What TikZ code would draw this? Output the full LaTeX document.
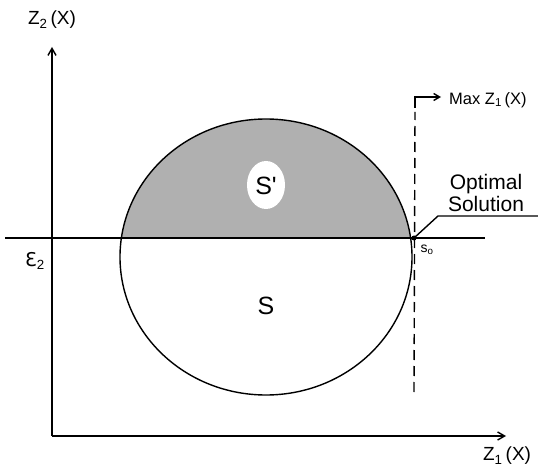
\documentclass[tikz,border=0pt]{standalone}
\usepackage{fontspec}
\setmainfont{Liberation Sans}
\newfontfamily\dvfont{DejaVu Sans}
\usetikzlibrary{arrows.meta}
\begin{document}
\begin{tikzpicture}[x=1pt,y=-1pt,
  lbl/.style={inner sep=0pt,font=\fontsize{19}{21}\selectfont},
  axis/.style={line width=1.4pt,-{Straight Barb[length=7pt,width=8pt]}},
  thin line/.style={line width=1.4pt}]
\useasboundingbox (0,0) rectangle (538,470);
% shaded upper part
\begin{scope}
  \clip (0,0) rectangle (538,238);
  \fill[gray!62] (266,257) ellipse [x radius=146, y radius=138];
\end{scope}
\fill[white] (266,185) ellipse [x radius=19, y radius=24];
\draw[thin line] (266,257) ellipse [x radius=146, y radius=138];
% axes
\coordinate (O) at (52,436);
\coordinate (ytop) at (52,47);
\coordinate (xend) at (506,436);
\draw[axis] (O) -- (ytop);
\draw[axis] (O) -- (xend);
\node[lbl] (z2) at (52,20) {Z\textsubscript{2}\,(X)};
\node[lbl] (z1) at (507,456) {Z\textsubscript{1}\,(X)};
% epsilon line
\coordinate (el) at (5,238);
\coordinate (er) at (485,238);
\draw[thin line] (el) -- (er);
\node[lbl] (eps) at (35,261) {{\dvfont Ɛ}\textsubscript{2}};
% region labels
\node[lbl,font=\fontsize{25}{28}\selectfont] (Sp) at (266,186) {S\textquotesingle};
\node[lbl,font=\fontsize{25}{28}\selectfont] (S) at (266,306) {S};
% dashed line and Max arrow
\coordinate (s0) at (414,238);
\coordinate (dtop) at (415,97);
\coordinate (dbot) at (414,392);
\coordinate (marr) at (441,97);
\draw[thin line,dash pattern=on 10pt off 6pt] (dbot) -- (415,112);
\draw[thin line,-{Straight Barb[length=6pt,width=7pt]}] (415,108) -- (dtop) -- (marr);
\node[lbl,anchor=west,font=\fontsize{16.5}{18}\selectfont] (max) at (449,100) {Max Z\textsubscript{1}\,(X)};
% optimal solution
\fill (s0) circle (2.5pt);
\node[lbl,align=center,font=\fontsize{21}{22}\selectfont] (opt) at (486,193) {Optimal\\Solution};
\coordinate (k) at (438,216);
\coordinate (oe) at (538,216);
\draw[thin line] (s0) -- (k) -- (oe);
\node[lbl,font=\fontsize{14}{15}\selectfont] (s0l) at (427,250) {s\textsubscript{o}};
\end{tikzpicture}
\end{document}
